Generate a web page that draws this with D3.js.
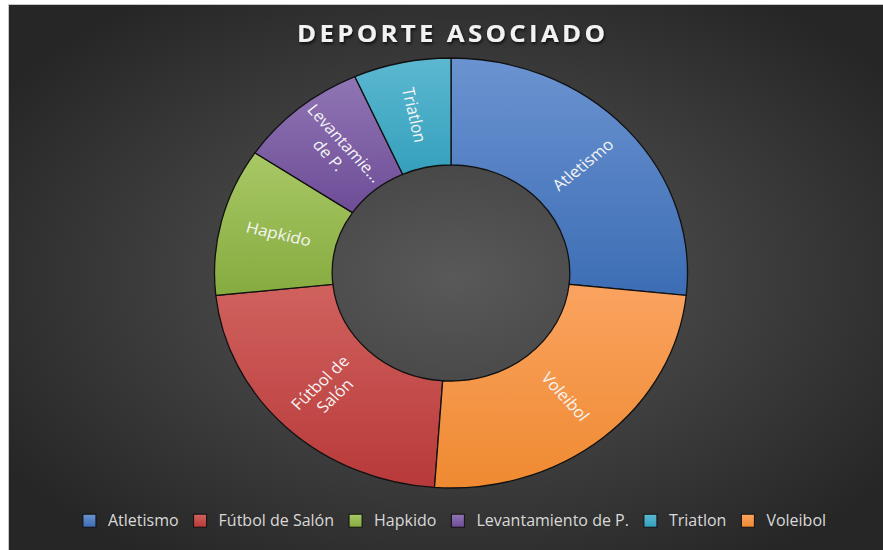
<!DOCTYPE html>
<html>
<head>
<meta charset="utf-8">
<script src="https://cdn.jsdelivr.net/npm/d3@7"></script>
<style>
  html, body { margin: 0; padding: 0; background: #ffffff; }
  svg { display: block; }
</style>
</head>
<body>
<div id="chart"></div>
<script>
// ---- data ----
const title = "DEPORTE ASOCIADO";
const categories = ["Atletismo", "Fútbol de Salón", "Hapkido", "Levantamiento de P.", "Triatlon", "Voleibol"];
const values = [12, 10, 5, 4, 3, 11];
const sliceOrder = ["Atletismo", "Voleibol", "Fútbol de Salón", "Hapkido", "Levantamiento de P.", "Triatlon"];
const labelLines = [["Atletismo"], ["Fútbol de", "Salón"], ["Hapkido"], ["Levantamie...", "de P."], ["Triatlon"], ["Voleibol"]];
const colorsTop = ["#6b93d1", "#d0625e", "#a8c866", "#9076b4", "#5cb8d1", "#faa360"];
const colorsBottom = ["#3c6db4", "#b8393a", "#86ab3f", "#6e4c97", "#35a0bc", "#ef8a31"];

// ---- layout ----
const W = 883, H = 550;
const cx = 451, cy = 273, rOuter = 215, rInner = 108, stretchX = 1.1;

const svg = d3.select("#chart").append("svg").attr("width", W).attr("height", H);
const defs = svg.append("defs");

const bg = defs.append("radialGradient").attr("id", "bg")
  .attr("cx", "0.51").attr("cy", "0.5").attr("r", "0.62");
bg.append("stop").attr("offset", "0").attr("stop-color", "#595959");
bg.append("stop").attr("offset", "1").attr("stop-color", "#262626");

const sh = defs.append("filter").attr("id", "shadow")
  .attr("x", "-10%").attr("y", "-30%").attr("width", "120%").attr("height", "160%");
sh.append("feDropShadow").attr("dx", 1).attr("dy", 2).attr("stdDeviation", 1.5)
  .attr("flood-color", "#000").attr("flood-opacity", 0.7);

categories.forEach((c, i) => {
  const g = defs.append("linearGradient").attr("id", "g" + i)
    .attr("x1", 0).attr("y1", 0).attr("x2", 0).attr("y2", 1);
  g.append("stop").attr("offset", 0).attr("stop-color", colorsTop[i]);
  g.append("stop").attr("offset", 1).attr("stop-color", colorsBottom[i]);
});

svg.append("rect").attr("x", 8.5).attr("y", 4.5).attr("width", W - 8).attr("height", H - 4)
  .attr("fill", "url(#bg)").attr("stroke", "#c8c8c8").attr("stroke-width", 1);

// title
svg.append("g").attr("transform", `translate(${cx},42) scale(${stretchX},1)`)
  .append("text").attr("x", 0).attr("y", 0).attr("text-anchor", "middle")
  .attr("font-family", "'Open Sans', sans-serif").attr("font-weight", "bold")
  .attr("font-size", 23.5).attr("fill", "#f2f2f2").attr("filter", "url(#shadow)")
  .attr("textLength", 308 / stretchX).attr("lengthAdjust", "spacing")
  .text(title);

// donut
const data = categories.map((c, i) => ({ cat: c, value: values[i], idx: i }));
const pie = d3.pie().value(d => d.value)
  .sort((a, b) => sliceOrder.indexOf(a.cat) - sliceOrder.indexOf(b.cat));
const arcs = pie(data);
const arc = d3.arc().innerRadius(rInner).outerRadius(rOuter);

const g = svg.append("g").attr("transform", `translate(${cx},${cy}) scale(${stretchX},1)`);
g.selectAll("path.slice").data(arcs).join("path")
  .attr("class", "slice")
  .attr("d", arc)
  .attr("fill", d => `url(#g${d.data.idx})`)
  .attr("stroke", "#111")
  .attr("stroke-width", 1.3)
  .attr("vector-effect", "non-scaling-stroke");

const labels = g.selectAll("text.lbl").data(arcs).join("text")
  .attr("class", "lbl")
  .attr("transform", d => {
    const [x, y] = arc.centroid(d);
    const mid = (d.startAngle + d.endAngle) / 2 * 180 / Math.PI;
    let rot = mid - 90;
    if (rot > 90) rot -= 180;
    return `translate(${x},${y}) rotate(${rot})`;
  })
  .attr("text-anchor", "middle")
  .attr("font-family", "'Open Sans', sans-serif")
  .attr("font-size", 15.5)
  .attr("fill", "#f5f5f5");
labels.each(function(d) {
  const lines = labelLines[d.data.idx];
  const lh = 1.2;
  d3.select(this).selectAll("tspan").data(lines).join("tspan")
    .attr("x", 0)
    .attr("dy", (l, i) => i === 0 ? `${(-(lines.length - 1) / 2 * lh + 0.35).toFixed(2)}em` : `${lh}em`)
    .text(l => l);
});

// legend
const legend = svg.append("g");
const sq = 13, gapSqText = 12, gapItem = 15;
const items = legend.selectAll("g").data(categories).join("g");
items.append("rect").attr("width", sq).attr("height", sq)
  .attr("fill", (c, i) => `url(#g${i})`).attr("stroke", "#111").attr("stroke-width", 1);
items.append("text").attr("x", sq + gapSqText).attr("y", sq / 2).attr("dy", "0.36em")
  .attr("font-family", "'Open Sans', sans-serif").attr("font-size", 16)
  .attr("fill", "#d9d9d9").text(c => c);
const widths = [];
items.each(function() {
  const t = d3.select(this).select("text").node().getComputedTextLength();
  widths.push(sq + gapSqText + t);
});
const total = d3.sum(widths) + gapItem * (widths.length - 1);
let x0 = 454.5 - total / 2;
items.attr("transform", (c, i) => {
  const x = x0;
  x0 += widths[i] + gapItem;
  return `translate(${x},${520.7 - sq / 2})`;
});
</script>
</body>
</html>
